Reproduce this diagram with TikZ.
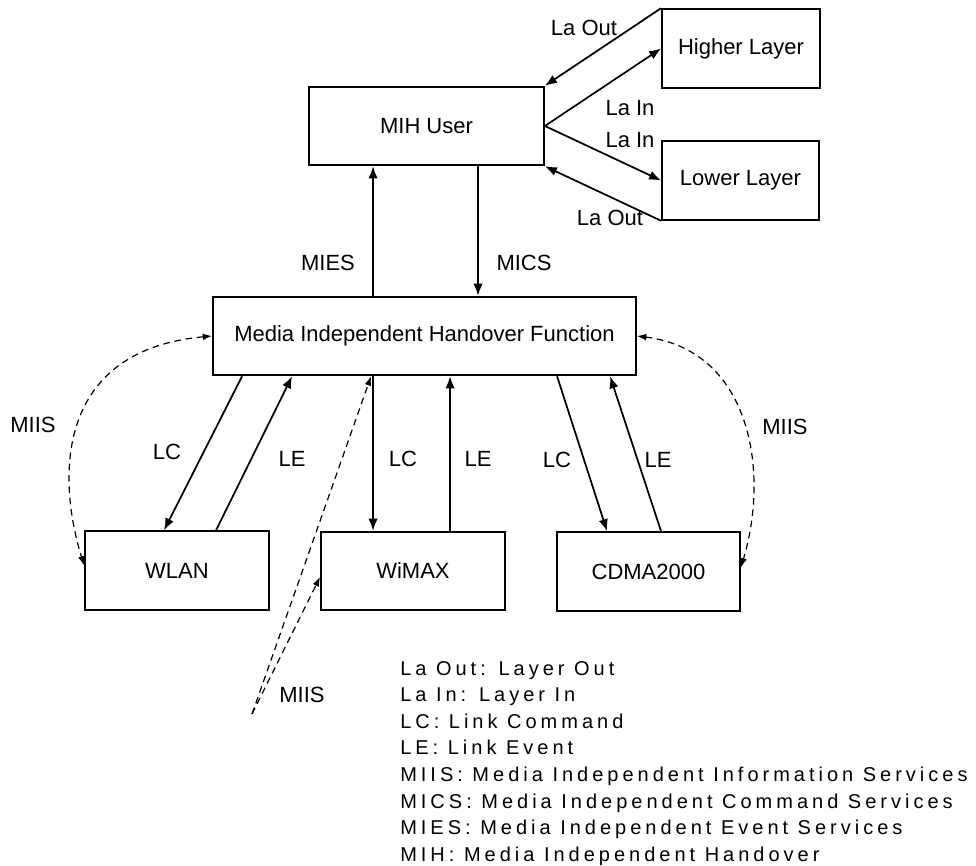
\documentclass[tikz,border=0pt]{standalone}
\usepackage{fontspec}
\setmainfont{Liberation Sans}
\newfontfamily\legfont[LetterSpace=20]{Liberation Sans}
\usetikzlibrary{arrows.meta,calc}
\begin{document}
\begin{tikzpicture}[x=0.75pt,y=-0.75pt,
 box/.style={draw,line width=1.4pt,rectangle,inner sep=0pt,minimum height=59pt,font=\fontsize{16.5}{20}\selectfont},
 arr/.style={line width=1.3pt,-{Latex[length=9pt,width=7pt]}},
 darr/.style={line width=0.9pt,dash pattern=on 5pt off 3.5pt,{Latex[length=7pt,width=5pt]}-{Latex[length=7pt,width=5pt]}},
 sarr/.style={line width=0.9pt,dash pattern=on 5pt off 3.5pt,-{Latex[length=7pt,width=5pt]}},
 lbl/.style={font=\fontsize{16.5}{20}\selectfont,inner sep=0pt},
 leg/.style={anchor=base west,inner sep=0pt,font=\legfont\fontsize{15}{18}\selectfont}]
\useasboundingbox (0,0) rectangle (976,866);

% boxes
\node[box,minimum width=118.5pt] (HL) at (741,48.5) {Higher Layer};
\node[box,minimum width=117.75pt] (LL) at (740.5,180.5) {Lower Layer};
\node[box,minimum width=176.25pt] (MU) at (426.5,126) {MIH User};
\node[box,minimum width=317.25pt] (MIHF) at (424.5,336) {Media Independent Handover Function};
\node[box,minimum width=138pt] (WLAN) at (177,570.5) {WLAN};
\node[box,minimum width=138pt] (WIMAX) at (413,571) {WiMAX};
\node[box,minimum width=137.25pt] (CDMA) at (648.5,571.5) {CDMA2000};

% MIH User <-> layers
\draw[arr] (HL.north west) -- (MU.north east);
\draw[arr] (MU.east) -- (HL.west);
\draw[arr] (MU.east) -- (LL.west);
\draw[arr] (LL.south west) -- (MU.south east);
\node[lbl] (lo1) at (584,28) {La Out};
\node[lbl] (li1) at (630,108) {La In};
\node[lbl] (li2) at (630,140) {La In};
\node[lbl] (lo2) at (610,218) {La Out};

% MIES / MICS
\draw[arr] ($(MIHF.north west)+(161,0)$) -- ($(MU.south west)+(65,0)$);
\draw[arr] ($(MU.south west)+(170,0)$) -- ($(MIHF.north west)+(266,0)$);
\node[lbl] (mies) at (328,263) {MIES};
\node[lbl] (mics) at (524,263) {MICS};

% links
\draw[arr] ($(MIHF.south west)+(30,0)$) -- ($(WLAN.north west)+(80,0)$);
\draw[arr] ($(WLAN.north west)+(132,0)$) -- ($(MIHF.south west)+(80,0)$);
\draw[arr] ($(MIHF.south west)+(161,0)$) -- ($(WIMAX.north west)+(53,0)$);
\draw[arr] ($(WIMAX.north west)+(130,0)$) -- ($(MIHF.south west)+(238,0)$);
\draw[arr] ($(MIHF.south west)+(345,0)$) -- ($(CDMA.north west)+(51,0)$);
\draw[arr] ($(CDMA.north west)+(105,0)$) -- ($(MIHF.south west)+(398,0)$);
\node[lbl] (lc1) at (167,452) {LC};
\node[lbl] (le1) at (292,459) {LE};
\node[lbl] (lc2) at (403,459) {LC};
\node[lbl] (le2) at (478,459) {LE};
\node[lbl] (lc3) at (557,460) {LC};
\node[lbl] (le3) at (658,460) {LE};

% MIIS
\draw[darr] (MIHF.west) .. controls (60,350) and (55,470) .. ($(WLAN.west)+(0,-5)$);
\draw[darr] (MIHF.east) .. controls (750,350) and (770,470) .. ($(CDMA.east)+(0,-4)$);
\coordinate (mp) at (252,714);
\draw[sarr] (mp) -- ($(MIHF.south west)+(159,0)$);
\draw[sarr] (mp) -- ($(WIMAX.west)+(0,6)$);
\node[lbl] (miisl) at (33,425) {MIIS};
\node[lbl] (miisr) at (785,427) {MIIS};
\node[lbl] (miism) at (302,695) {MIIS};

% legend
\node[leg] (g1) at (400,675) {La Out: Layer Out};
\node[leg] (g2) at (400,701.6) {La In: Layer In};
\node[leg] (g3) at (400,728.2) {LC: Link Command};
\node[leg] (g4) at (400,754.8) {LE: Link Event};
\node[leg] (g5) at (400,781.4) {MIIS: Media Independent Information Services};
\node[leg] (g6) at (400,808) {MICS: Media Independent Command Services};
\node[leg] (g7) at (400,834.6) {MIES: Media Independent Event Services};
\node[leg] (g8) at (400,861.2) {MIH: Media Independent Handover};
\end{tikzpicture}
\end{document}
